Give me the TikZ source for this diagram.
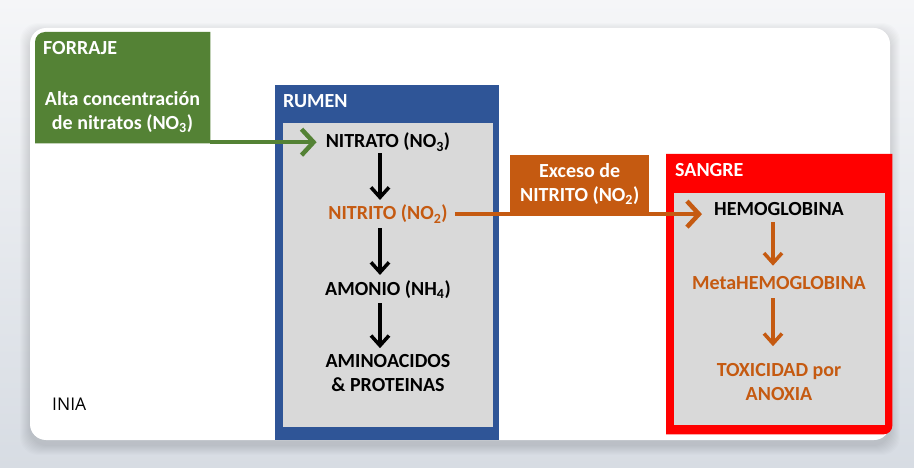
\documentclass[tikz,border=0pt]{standalone}
\usepackage{fontspec}
\setmainfont{Carlito}
\newfontfamily\iniafont{Open Sans}
\usepackage{tikz}
\usetikzlibrary{arrows.meta,positioning}

\definecolor{forgreen}{RGB}{84,130,53}
\definecolor{rumenblue}{RGB}{47,85,151}
\definecolor{nitorange}{RGB}{197,90,17}
\definecolor{sangred}{RGB}{255,0,0}
\definecolor{boxgray}{RGB}{217,217,217}
\definecolor{bgtop}{RGB}{245,246,248}
\definecolor{bgbot}{RGB}{215,220,227}

\tikzset{
  txt/.style={font=\fontsize{20}{24}\selectfont\bfseries,align=center,inner sep=0},
  head/.style={txt,text=white,anchor=base west},
  area/.style={inner sep=0,anchor=north west},
  flow/.style={line width=3.5,-{Straight Barb[length=10,width=18]}},
  feed/.style={line width=4.5,-{Straight Barb[length=12,width=26]}}
}

\begin{document}
\begin{tikzpicture}[x=1pt,y=-1pt]
\useasboundingbox (0,0) rectangle (914,468);
% page and card
\shade[top color=bgtop,bottom color=bgbot] (0,0) rectangle (914,468);
\foreach \s in {1,...,10}
  \fill[black,opacity=0.012,rounded corners=18] (30-\s,28-\s+5) rectangle (890+\s,440+\s+5);
\fill[white,rounded corners=16] (30,28) rectangle (890,440);

% boxes
\node[area,minimum width=175,minimum height=111] (forraje) at (35,32) {};
\fill[forgreen] (forraje.south east) -- (forraje.south west) [rounded corners=10] -- (forraje.north west) [sharp corners] -- (forraje.north east) -- cycle;
\node[area,fill=rumenblue,minimum width=224,minimum height=355] (rumen) at (275,85) {};
\node[area,fill=boxgray,minimum width=210,minimum height=304] (rumenin) at (283,123) {};
\node[area,minimum width=226,minimum height=280] (sangre) at (666,154) {};
\fill[sangred] (sangre.north west) -- (sangre.north east) [rounded corners=9] -- (sangre.south east) [sharp corners] -- (sangre.south west) -- cycle;
\node[area,fill=boxgray,minimum width=211,minimum height=232] (sangrein) at (674,193) {};
\node[area,txt,fill=nitorange,text=white,minimum width=139,minimum height=58] (exceso) at (510,155) {Exceso de\\NITRITO (NO\textsubscript{2})};

% titles
\node[head] (forrajet) at (43,55) {FORRAJE};
\node[head] (rument) at (283,108) {RUMEN};
\node[head] (sangret) at (675,177) {SANGRE};
\node[txt,text=white] (alta) at (122.5,112) {Alta concentración\\de nitratos (NO\textsubscript{3})};

% rumen
\node[txt,anchor=base] (nitrato) at (388,148) {NITRATO (NO\textsubscript{3})};
\node[txt,anchor=base,text=nitorange] (nitrito) at (388,220) {NITRITO (NO\textsubscript{2})};
\node[txt,anchor=base] (amonio) at (388,295) {AMONIO (NH\textsubscript{4})};
\node[txt] (amino) at (388,373) {AMINOACIDOS\\\& PROTEINAS};

% sangre
\node[txt,anchor=base] (hemo) at (779,216) {HEMOGLOBINA};
\node[txt,anchor=base,text=nitorange] (meta) at (779,290) {MetaHEMOGLOBINA};
\node[txt,text=nitorange] (toxic) at (779,382) {TOXICIDAD por\\ANOXIA};

\node[font=\iniafont\fontsize{17.5}{20}\selectfont,anchor=base west,inner sep=0] (inia) at (52,410) {INIA};

% arrows
\draw[flow,shorten <=2,shorten >=5] ([xshift=-8]nitrato.south) -- ([xshift=-8]nitrito.north);
\draw[flow,shorten <=5,shorten >=5] ([xshift=-8]nitrito.south) -- ([xshift=-8]amonio.north);
\draw[flow,shorten <=5,shorten >=6] ([xshift=-8]amonio.south) -- ([xshift=-8]amino.north);
\draw[flow,nitorange,shorten <=6,shorten >=11] ([xshift=-6]hemo.south) -- ([xshift=-6]meta.north);
\draw[flow,nitorange,shorten <=8,shorten >=17] ([xshift=-6]meta.south) -- ([xshift=-6]toxic.north);
\draw[feed,forgreen,shorten >=9] (forraje.east |- nitrato.west) -- (nitrato.west);
\draw[feed,nitorange,shorten <=7,shorten >=12] (nitrito.east) -- (nitrito.east -| hemo.west);
\end{tikzpicture}
\end{document}
